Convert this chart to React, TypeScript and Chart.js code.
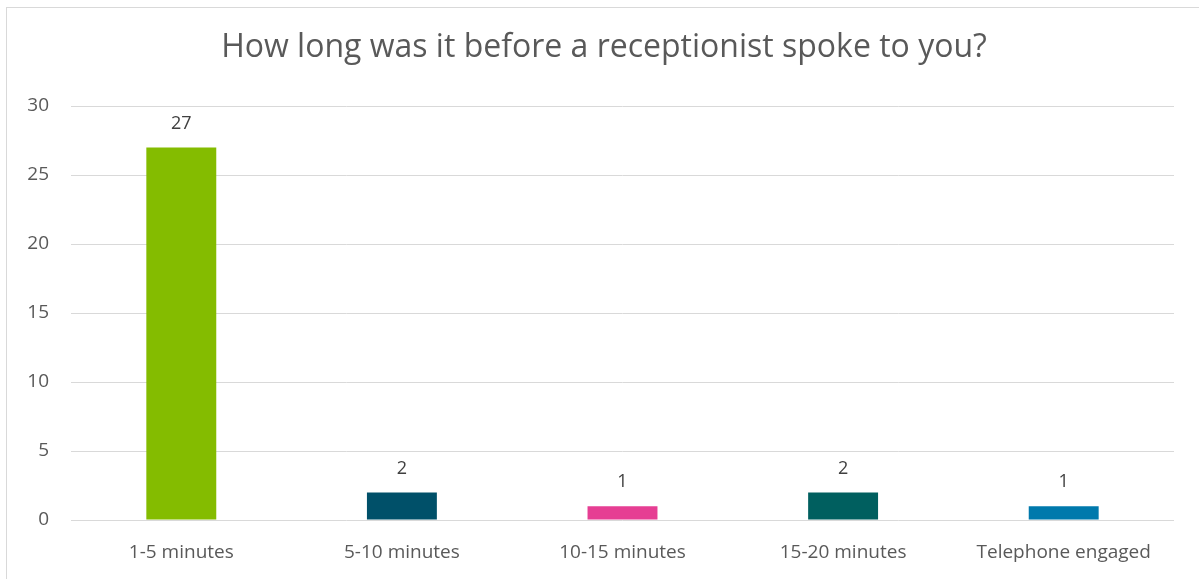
import React, { useEffect, useRef } from "react";
import { Chart, registerables } from "chart.js";

Chart.register(...registerables);

const categories = ["1-5 minutes", "5-10 minutes", "10-15 minutes", "15-20 minutes", "Telephone engaged"];
const values = [27, 2, 1, 2, 1];
const barColors = ["#84BC00", "#005069", "#E63E93", "#005F5F", "#0079AC"];
const chartTitle = "How long was it before a receptionist spoke to you?";

const FONT = "'Open Sans', 'Noto Sans', sans-serif";

const labelPlugin = {
  id: "barLabels",
  afterDatasetsDraw(chart: any) {
    const ctx = chart.ctx;
    const meta = chart.getDatasetMeta(0);
    ctx.save();
    ctx.font = `18px ${FONT}`;
    ctx.fillStyle = "#404040";
    ctx.textAlign = "center";
    ctx.textBaseline = "middle";
    meta.data.forEach((bar: any, i: number) => {
      ctx.fillText(String(values[i]), bar.x, bar.y - 24);
    });
    ctx.restore();
  },
};

const titlePlugin = {
  id: "centredTitle",
  afterDraw(chart: any) {
    const ctx = chart.ctx;
    ctx.save();
    ctx.font = `32px ${FONT}`;
    ctx.fillStyle = "#595959";
    ctx.textAlign = "center";
    ctx.textBaseline = "middle";
    ctx.fillText(chartTitle, 604, 48);
    ctx.restore();
  },
};

export default function App() {
  const ref = useRef<HTMLCanvasElement>(null);
  useEffect(() => {
    if (!ref.current) return;
    const chart = new Chart(ref.current, {
      type: "bar",
      data: {
        labels: categories,
        datasets: [
          {
            data: values,
            backgroundColor: barColors,
            categoryPercentage: 1,
            barPercentage: 0.317,
          },
        ],
      },
      options: {
        animation: false,
        responsive: false,
        maintainAspectRatio: false,
        layout: { padding: { left: 0, right: 25, top: 106, bottom: 0 } },
        plugins: {
          legend: { display: false },
          tooltip: { enabled: false },
          title: { display: false },
        },
        scales: {
          x: {
            grid: { display: false },
            border: { display: false },
            ticks: {
              color: "#595959",
              font: { family: FONT, size: 19 },
              padding: 13,
              maxRotation: 0,
            },
            afterFit(scale: any) {
              scale.height = 59;
            },
          },
          y: {
            min: 0,
            max: 30,
            ticks: {
              stepSize: 5,
              color: "#595959",
              font: { family: FONT, size: 19 },
              padding: 22,
            },
            grid: { color: "#D9D9D9", lineWidth: 1, drawTicks: false },
            border: { display: false },
            afterFit(scale: any) {
              scale.width = 71;
            },
          },
        },
      },
      plugins: [labelPlugin, titlePlugin],
    });
    return () => chart.destroy();
  }, []);
  return (
    <div style={{ position: "fixed", left: 0, top: 0, width: 1199, height: 579, background: "#fff", overflow: "hidden" }}>
      <div
        style={{
          position: "absolute",
          left: 6,
          top: 7,
          width: 1250,
          height: 640,
          border: "1px solid #D9D9D9",
          boxSizing: "border-box",
        }}
      />
      <canvas ref={ref} width={1199} height={579} style={{ position: "absolute", left: 0, top: 0 }} />
    </div>
  );
}
